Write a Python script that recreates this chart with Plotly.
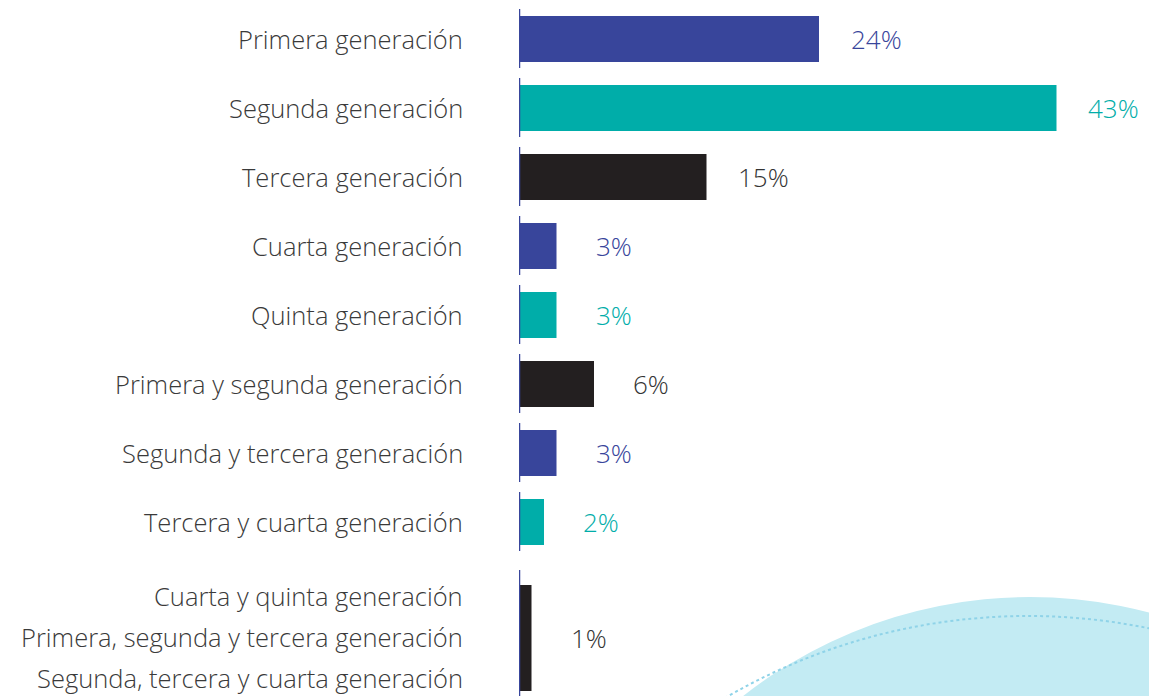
import plotly.graph_objects as go

# data
categories = [
    "Primera generación",
    "Segunda generación",
    "Tercera generación",
    "Cuarta generación",
    "Quinta generación",
    "Primera y segunda generación",
    "Segunda y tercera generación",
    "Tercera y cuarta generación",
    "Cuarta y quinta generación<br>Primera, segunda y tercera generación<br>Segunda, tercera y cuarta generación",
]
values = [24, 43, 15, 3, 3, 6, 3, 2, 1]

BLUE = "#38459b"
TEAL = "#00ada9"
BLACK = "#231f20"
bar_colors = [BLUE, TEAL, BLACK, BLUE, TEAL, BLACK, BLUE, TEAL, BLACK]
text_colors = [BLUE, TEAL, "#333333", BLUE, TEAL, "#333333", BLUE, TEAL, "#333333"]

W, H = 1149, 696
ML = 519
PX_PER_UNIT = 12.5
ROW = 69.0

# y positions: regular rows, the last group is a taller block
ypos = list(range(len(categories) - 1)) + [(638 - 39) / ROW]
widths = [46 / ROW] * (len(categories) - 1) + [106 / ROW]
yrange = [(H - 39) / ROW, -39 / ROW]
xrange = [0, (W - ML) / PX_PER_UNIT]

FONT = "Open Sans"
label_font = dict(family=FONT, size=25.5, color="#3a3a3a", weight=300)

fig = go.Figure()
fig.add_trace(go.Bar(
    x=values, y=ypos, width=widths, orientation="h",
    marker=dict(color=bar_colors, line=dict(width=0)),
    hoverinfo="skip",
))

annotations = []
for v, y, c in zip(values, ypos, text_colors):
    annotations.append(dict(
        x=v, y=y, xref="x", yref="y", text=f"{v}%", showarrow=False,
        xanchor="center", xshift=57, font=dict(family=FONT, size=26, color=c, weight=300),
    ))

# category labels (the last block has three lines, spaced wider)
for cat, y in zip(categories[:-1], ypos[:-1]):
    annotations.append(dict(
        x=0, y=y, xref="paper", yref="y", text=cat, showarrow=False,
        xanchor="right", xshift=-54, font=label_font,
    ))
for i, line in enumerate(categories[-1].split("<br>")):
    annotations.append(dict(
        x=0, y=ypos[-1] + (i - 1) * 41 / ROW, xref="paper", yref="y", text=line,
        showarrow=False, xanchor="right", xshift=-54, yshift=1, font=label_font,
    ))

shapes = []
# segmented axis line
for y, w in zip(ypos[:-1], widths[:-1]):
    shapes.append(dict(type="line", xref="x", yref="y", x0=0, x1=0,
                       y0=y - w / 2 - 7 / ROW, y1=y + w / 2 + 6 / ROW,
                       line=dict(color=BLUE, width=2.5)))
shapes.append(dict(type="line", xref="x", yref="y", x0=0, x1=0,
                   y0=ypos[-1] - widths[-1] / 2 - 15 / ROW, y1=yrange[0],
                   line=dict(color=BLUE, width=2.5)))


def px(x):
    return (x - ML) / (W - ML)


def py(y):
    return 1 - y / H


# decorative circle + dotted arc
cx, cy, r = 1030, 1062, 465
shapes.append(dict(type="circle", xref="paper", yref="paper", layer="below",
                   x0=px(cx - r), x1=px(cx + r), y0=py(cy + r), y1=py(cy - r),
                   fillcolor="#c3ebf3", line=dict(width=0)))
cx2, cy2, r2 = 1028, 1217, 601
shapes.append(dict(type="circle", xref="paper", yref="paper", layer="below",
                   x0=px(cx2 - r2), x1=px(cx2 + r2), y0=py(cy2 + r2), y1=py(cy2 - r2),
                   line=dict(color="#8fd3e8", width=2, dash="dot")))

fig.update_layout(
    width=W, height=H,
    margin=dict(l=ML, r=0, t=0, b=0),
    paper_bgcolor="white", plot_bgcolor="rgba(0,0,0,0)",
    showlegend=False,
    xaxis=dict(range=xrange, visible=False, fixedrange=True),
    yaxis=dict(range=yrange, visible=False, fixedrange=True),
    annotations=annotations,
    shapes=shapes,
)

fig.write_html("out.html", config={"displayModeBar": False},
               post_script="document.body.style.margin='0';document.body.style.overflow='hidden';")
